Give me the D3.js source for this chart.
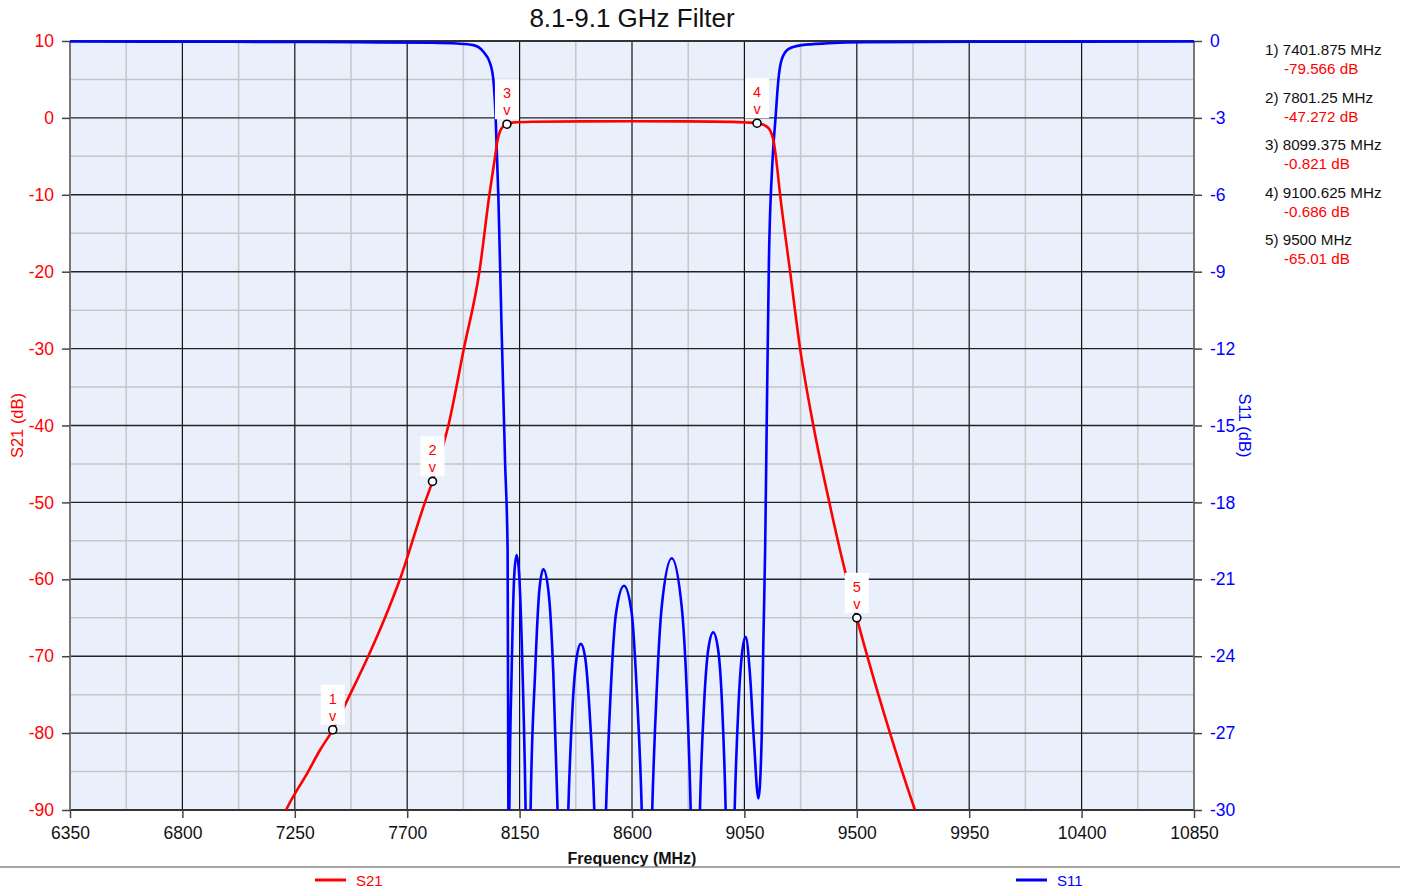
<!DOCTYPE html>
<html>
<head>
<meta charset="utf-8">
<script src="https://cdn.jsdelivr.net/npm/d3@7"></script>
<style>
  html, body { margin: 0; padding: 0; background: #fff; }
  svg { display: block; font-family: "Liberation Sans", Arial, sans-serif; }
</style>
</head>
<body>
<svg id="chart" width="1405" height="891"></svg>
<script>
// ---------- data ----------
const chartTitle = "8.1-9.1 GHz Filter";
const xTicks = [6350, 6800, 7250, 7700, 8150, 8600, 9050, 9500, 9950, 10400, 10850];
const leftTicks = [10, 0, -10, -20, -30, -40, -50, -60, -70, -80, -90];
const rightTicks = [0, -3, -6, -9, -12, -15, -18, -21, -24, -27, -30];

const s21Freq = [7180, 7215, 7300, 7351, 7401.875, 7471, 7544, 7611, 7671, 7771, 7801.25, 7865, 7927, 7989, 8029, 8052, 8061, 8072, 8085, 8099.375, 8120, 8200, 8400, 8600, 8800, 9000, 9060, 9100.625, 9133, 9152, 9166, 9175, 9193, 9233, 9273, 9326, 9390, 9440, 9500, 9542, 9633, 9733, 9760];
const s21Db   = [-92.6, -90, -85.2, -82.2, -79.566, -75, -70, -65, -60, -50, -47.272, -40, -30, -20, -10, -5, -3, -1.7, -1.1, -0.821, -0.62, -0.5, -0.45, -0.43, -0.45, -0.52, -0.6, -0.686, -1.0, -1.57, -2.87, -4.78, -10, -20, -30, -40, -50, -57.2, -65.01, -70, -80, -90, -92.5];

const s11Freq = [6350, 7000, 7500, 7800, 7900, 7965, 8005, 8032, 8045, 8054, 8065, 8078, 8092, 8102, 8105, 8107, 8109,
  8118, 8129, 8138, 8148, 8162, 8174, 8184, 8194,
  8212, 8229, 8245, 8265, 8285, 8302, 8324, 8345,
  8362, 8379, 8395, 8412, 8429, 8449, 8472, 8496,
  8515, 8536, 8568, 8599, 8619, 8639, 8660, 8681,
  8699, 8719, 8759, 8799, 8819, 8835, 8854, 8872,
  8888, 8905, 8925, 8945, 8961, 8975, 8992, 9011,
  9026, 9042, 9055, 9072, 9088, 9106, 9119, 9126, 9133, 9139, 9148, 9162, 9175, 9186, 9199, 9226, 9279, 9386, 9533, 10000, 10850];
const s11Db = [-0.02, -0.03, -0.05, -0.07, -0.1, -0.16, -0.42, -0.87, -1.52, -2.95, -6.07, -11.27, -16.47, -19.86, -30, -36, -30,
  -24.67, -20.77, -20.05, -20.77, -24.67, -30, -38, -30,
  -24.67, -21.42, -20.61, -21.42, -24.67, -30, -40, -30,
  -25.97, -24.02, -23.52, -24.02, -25.97, -30, -40, -30,
  -25.32, -22.33, -21.25, -22.33, -25.32, -30, -40, -30,
  -25.32, -22.07, -20.18, -22.07, -25.32, -30, -40, -30,
  -25.97, -23.76, -23.07, -23.76, -25.97, -30, -40, -30,
  -25.97, -23.76, -23.24, -24.67, -27.27, -29.55, -27.27, -23.37, -19.86, -15.18, -8.67, -4.77, -2.95, -1.52, -0.74, -0.32, -0.16, -0.09, -0.05, -0.03, -0.02];

const markerFreq = [7401.875, 7801.25, 8099.375, 9100.625, 9500];
const markerDb   = [-79.566, -47.272, -0.821, -0.686, -65.01];

const seriesNames = ["S21", "S11"];
const seriesColors = ["#ff0000", "#0000ff"];

// ---------- layout ----------
const svg = d3.select("#chart");
const L = 70, R = 1194, T = 41, B = 810;

const x = d3.scaleLinear().domain([6350, 10850]).range([L, R]);
const yL = d3.scaleLinear().domain([-90, 10]).range([B, T]);
const yR = d3.scaleLinear().domain([-30, 0]).range([B, T]);

// background
svg.append("rect").attr("x", L).attr("y", T).attr("width", R - L).attr("height", B - T).attr("fill", "#eaf0fb");

// grid
const minorX = d3.range(xTicks.length - 1).map(i => (xTicks[i] + xTicks[i + 1]) / 2);
const minorY = d3.range(leftTicks.length - 1).map(i => (leftTicks[i] + leftTicks[i + 1]) / 2);
const grid = svg.append("g");
grid.selectAll(".mx").data(minorX).join("line")
  .attr("x1", d => x(d)).attr("x2", d => x(d)).attr("y1", T).attr("y2", B)
  .attr("stroke", "#c6c6c6").attr("stroke-width", 1.5);
grid.selectAll(".my").data(minorY).join("line")
  .attr("x1", L).attr("x2", R).attr("y1", d => yL(d)).attr("y2", d => yL(d))
  .attr("stroke", "#c6c6c6").attr("stroke-width", 1.5);
grid.selectAll(".Mx").data(xTicks.slice(1, -1)).join("line")
  .attr("x1", d => x(d)).attr("x2", d => x(d)).attr("y1", T).attr("y2", B)
  .attr("stroke", "#111").attr("stroke-width", 1.2);
grid.selectAll(".My").data(leftTicks.slice(1, -1)).join("line")
  .attr("x1", L).attr("x2", R).attr("y1", d => yL(d)).attr("y2", d => yL(d))
  .attr("stroke", "#222").attr("stroke-width", 1.4);

// frame
svg.append("line").attr("x1", L).attr("x2", R).attr("y1", T).attr("y2", T).attr("stroke", "#333").attr("stroke-width", 2);
svg.append("line").attr("x1", L).attr("x2", R).attr("y1", B).attr("y2", B).attr("stroke", "#333").attr("stroke-width", 2);
svg.append("line").attr("x1", L).attr("x2", L).attr("y1", T).attr("y2", B).attr("stroke", "#777").attr("stroke-width", 2);
svg.append("line").attr("x1", R).attr("x2", R).attr("y1", T).attr("y2", B).attr("stroke", "#777").attr("stroke-width", 2);

// axes
const fmt = d => String(d);
function styleAxis(g, color, size) {
  g.select(".domain").remove();
  g.selectAll(".tick line").attr("stroke", "#444").attr("stroke-width", 1.5);
  g.selectAll(".tick text").attr("fill", color).attr("font-size", size).attr("font-family", "Liberation Sans, Arial, sans-serif");
}
svg.append("g").attr("transform", `translate(${L},0)`)
  .call(d3.axisLeft(yL).tickValues(leftTicks).tickFormat(fmt).tickSize(8).tickPadding(8))
  .call(g => styleAxis(g, "#ff0000", 17.5));
svg.append("g").attr("transform", `translate(${R},0)`)
  .call(d3.axisRight(yR).tickValues(rightTicks).tickFormat(fmt).tickSize(8).tickPadding(8))
  .call(g => styleAxis(g, "#0000ff", 17.5));
svg.append("g").attr("transform", `translate(0,${B})`)
  .call(d3.axisBottom(x).tickValues(xTicks).tickFormat(fmt).tickSize(8).tickPadding(9))
  .call(g => styleAxis(g, "#111", 17.5));

// clip
svg.append("clipPath").attr("id", "clip").append("rect")
  .attr("x", L).attr("y", T - 2).attr("width", R - L).attr("height", B - T + 2);

const plot = svg.append("g").attr("clip-path", "url(#clip)");
const lineL = d3.line().x(d => x(d[0])).y(d => yL(d[1])).curve(d3.curveMonotoneX);
const lineR = d3.line().x(d => x(d[0])).y(d => yR(d[1])).curve(d3.curveMonotoneX);

const s21 = d3.zip(s21Freq, s21Db);
const s11 = d3.zip(s11Freq, s11Db);

plot.append("path").datum(s11).attr("d", lineR).attr("fill", "none")
  .attr("stroke", seriesColors[1]).attr("stroke-width", 2.6).attr("stroke-linejoin", "round");
plot.append("path").datum(s21).attr("d", lineL).attr("fill", "none")
  .attr("stroke", seriesColors[0]).attr("stroke-width", 2.6).attr("stroke-linejoin", "round");

// markers
const markers = d3.zip(markerFreq, markerDb);
const mg = svg.append("g");
mg.selectAll("rect").data(markers).join("rect")
  .attr("x", d => x(d[0]) - 12).attr("y", d => yL(d[1]) - 45)
  .attr("width", 24).attr("height", 40).attr("fill", "#ffffff");
mg.selectAll(".num").data(markers).join("text")
  .attr("x", d => x(d[0])).attr("y", d => yL(d[1]) - 26)
  .attr("text-anchor", "middle").attr("fill", "#ff0000").attr("font-size", 14.5)
  .text((d, i) => i + 1);
mg.selectAll(".v").data(markers).join("text")
  .attr("x", d => x(d[0])).attr("y", d => yL(d[1]) - 9)
  .attr("text-anchor", "middle").attr("fill", "#ff0000").attr("font-size", 14.5)
  .text("v");
mg.selectAll("circle").data(markers).join("circle")
  .attr("cx", d => x(d[0])).attr("cy", d => yL(d[1])).attr("r", 4)
  .attr("fill", "#fff").attr("stroke", "#000").attr("stroke-width", 1.6);

// marker readout list
const list = svg.append("g");
markers.forEach((d, i) => {
  const y0 = 55 + i * 47.5;
  list.append("text").attr("x", 1265).attr("y", y0).attr("font-size", 15.2).attr("fill", "#111")
    .text(`${i + 1}) ${d[0]} MHz`);
  list.append("text").attr("x", 1284).attr("y", y0 + 19).attr("font-size", 15.2).attr("fill", "#ff0000")
    .text(`${d[1]} dB`);
});

// titles
svg.append("text").attr("x", (L + R) / 2).attr("y", 27).attr("text-anchor", "middle")
  .attr("font-size", 26).attr("fill", "#111").text(chartTitle);
svg.append("text").attr("x", (L + R) / 2).attr("y", 864).attr("text-anchor", "middle")
  .attr("font-size", 16).attr("font-weight", "bold").attr("fill", "#111").text("Frequency (MHz)");
svg.append("text").attr("transform", `translate(23,${(T + B) / 2}) rotate(-90)`).attr("text-anchor", "middle")
  .attr("font-size", 16.5).attr("fill", "#ff0000").text("S21 (dB)");
svg.append("text").attr("transform", `translate(1239,${(T + B) / 2}) rotate(90)`).attr("text-anchor", "middle")
  .attr("font-size", 16.5).attr("fill", "#0000ff").text("S11 (dB)");

// legend
svg.append("line").attr("x1", 0).attr("x2", 1400).attr("y1", 867).attr("y2", 867).attr("stroke", "#888").attr("stroke-width", 1.5);
const legX = [315, 1016];
seriesNames.forEach((n, i) => {
  svg.append("line").attr("x1", legX[i]).attr("x2", legX[i] + 31).attr("y1", 880).attr("y2", 880)
    .attr("stroke", seriesColors[i]).attr("stroke-width", 3);
  svg.append("text").attr("x", legX[i] + 41).attr("y", 886).attr("font-size", 15)
    .attr("fill", seriesColors[i]).text(n);
});
</script>
</body>
</html>
